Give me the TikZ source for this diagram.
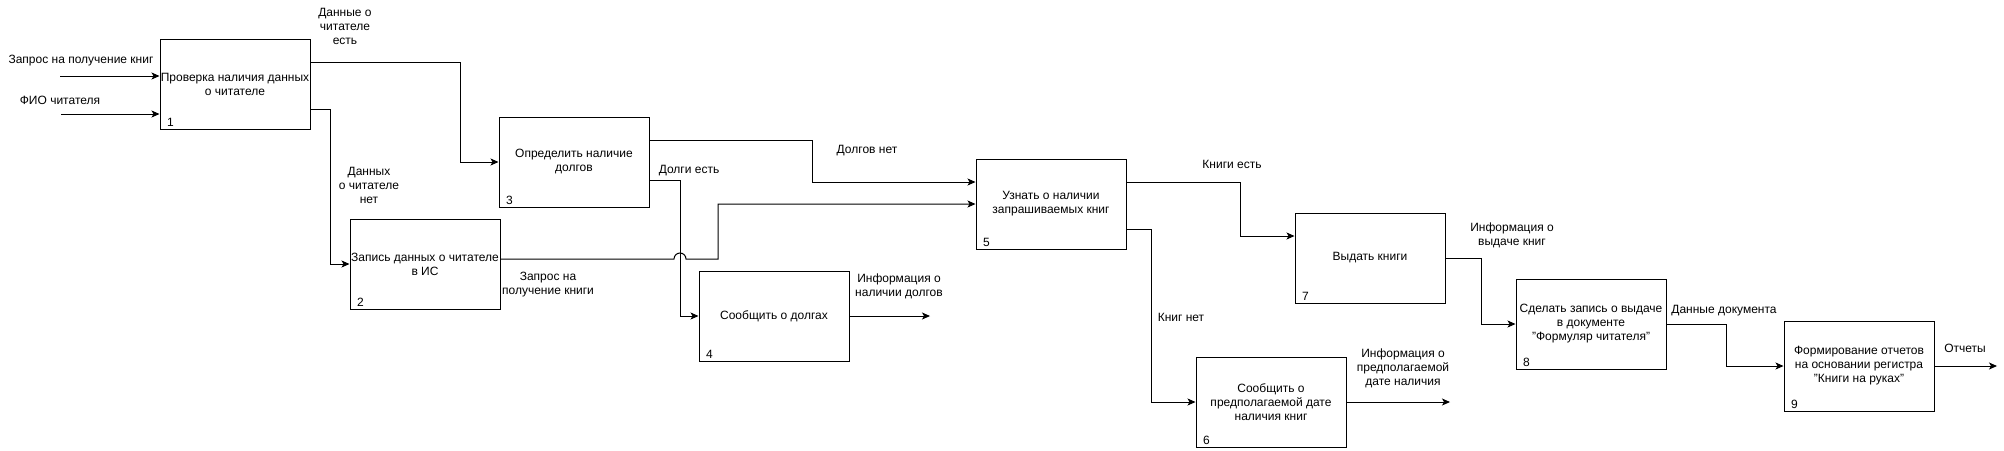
\documentclass[tikz,border=0pt]{standalone}
\usepackage{fontspec}
\setmainfont{Liberation Sans}
\usetikzlibrary{arrows.meta}
\begin{document}
\begin{tikzpicture}[x=1pt,y=-1pt,
  every node/.style={font=\fontsize{12pt}{14pt}\selectfont, text=black},
  box/.style={draw, line width=1pt, minimum width=150pt, minimum height=90pt, align=center, inner sep=0pt},
  num/.style={inner sep=0pt},
  lbl/.style={align=center, inner sep=0pt},
  arr/.style={line width=1pt, -{Stealth[length=8pt,width=7pt,inset=2pt]}},
  ln/.style={line width=1pt}]
\useasboundingbox (0,0) rectangle (2004,450);
% boxes
\node[box] (b1) at (235,84) {Проверка наличия данных\\о читателе};
\node[box] (b2) at (425,264) {Запись данных о читателе\\в ИС};
\node[box] (b3) at (574,162) {Определить наличие\\долгов};
\node[box] (b4) at (774,316) {Сообщить о долгах};
\node[box] (b5) at (1051,204) {Узнать о наличии\\запрашиваемых книг};
\node[box] (b6) at (1271,402) {Сообщить о\\предполагаемой дате\\наличия книг};
\node[box] (b7) at (1370,258) {Выдать книги};
\node[box] (b8) at (1591,324) {Сделать запись о выдаче\\в документе\\"Формуляр читателя"};
\node[box] (b9) at (1859,366) {Формирование отчетов\\на основании регистра\\"Книги на руках"};
% numbers
\node[num] (n1) at ([shift={(11,-7)}]b1.south west) {1};
\node[num] (n2) at ([shift={(11,-7)}]b2.south west) {2};
\node[num] (n3) at ([shift={(11,-7)}]b3.south west) {3};
\node[num] (n4) at ([shift={(11,-7)}]b4.south west) {4};
\node[num] (n5) at ([shift={(11,-7)}]b5.south west) {5};
\node[num] (n6) at ([shift={(11,-7)}]b6.south west) {6};
\node[num] (n7) at ([shift={(11,-7)}]b7.south west) {7};
\node[num] (n8) at ([shift={(11,-7)}]b8.south west) {8};
\node[num] (n9) at ([shift={(11,-7)}]b9.south west) {9};
% free ends
\coordinate (in1) at (60,76);
\coordinate (in2) at (61,114);
\coordinate (out4) at (930,316);
\coordinate (out6) at (1450,402);
\coordinate (out9) at (1997,366);
% connectors
\draw[arr] (in1) -- (b1.west |- in1);
\draw[arr] (in2) -- (b1.west |- in2);
\draw[arr] (b1.east |- 0,62) -| (460,162) -- (b3.west);
\draw[arr] (b1.east |- 0,109) -| (330,264) -- (b2.west);
\draw[arr] (b3.east |- 0,140) -| (812,182) -- (b5.west |- 0,182);
\draw[arr] (b3.east |- 0,180) -| (680,316) -- (b4.west);
\draw[arr] (b2.east |- 0,259) -- (674,259) arc (180:360:6) -- (718,259) |- (b5.west |- 0,204);
\draw[arr] (b4.east) -- (out4);
\draw[arr] (b5.east |- 0,182) -| (1240,236) -- (b7.west |- 0,236);
\draw[arr] (b5.east |- 0,229) -| (1151,402) -- (b6.west);
\draw[arr] (b6.east) -- (out6);
\draw[arr] (b7.east) -| (1481,324) -- (b8.west);
\draw[arr] (b8.east) -| (1726,366) -- (b9.west);
\draw[arr] (b9.east) -- (out9);
% labels
\node[lbl] (l1) at (81,61) {Запрос на получение книг};
\node[lbl] (l2) at (60,100) {ФИО читателя};
\node[lbl] (l3) at (345,26) {Данные о\\читателе\\есть};
\node[lbl] (l4) at (369,185) {Данных\\о читателе\\нет};
\node[lbl] (l5) at (867,151) {Долгов нет};
\node[lbl] (l6) at (689,171) {Долги есть};
\node[lbl] (l7) at (548,285) {Запрос на\\получение книги};
\node[lbl] (l8) at (899,286) {Информация о\\наличии долгов};
\node[lbl] (l9) at (1232,164) {Книги есть};
\node[lbl] (l10) at (1181,317) {Книг нет};
\node[lbl] (l11) at (1403,368) {Информация о\\предполагаемой\\дате наличия};
\node[lbl] (l12) at (1512,235) {Информация о\\выдаче книг};
\node[lbl] (l13) at (1724,311) {Данные документа};
\node[lbl] (l14) at (1965,348) {Отчеты};
\end{tikzpicture}
\end{document}
